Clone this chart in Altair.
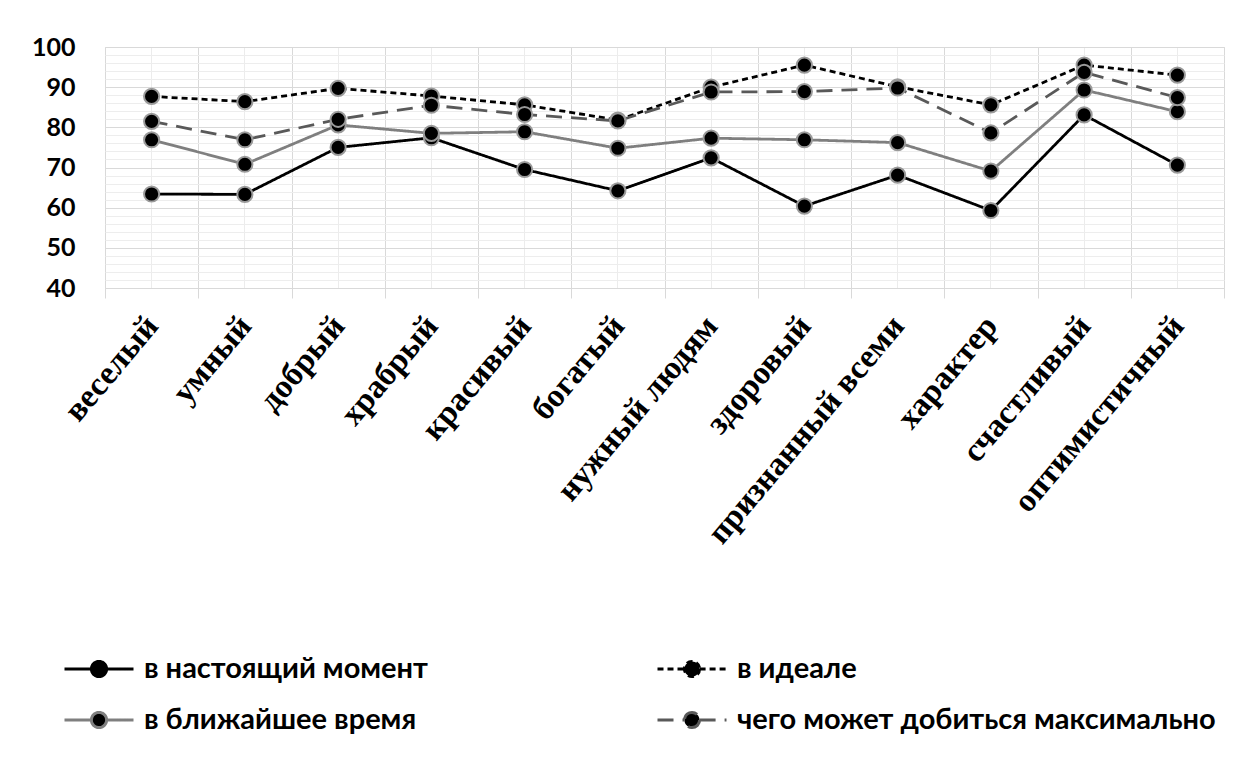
import altair as alt
import pandas as pd

categories = ["веселый", "умный", "добрый", "храбрый", "красивый", "богатый",
              "нужный людям", "здоровый", "признанный  всеми", "характер",
              "счастливый", "оптимистичный"]

series_names = ["в настоящий момент", "в идеале", "в ближайшее время",
                "чего может добиться максимально"]

now_vals = [63.4, 63.3, 75.0, 77.4, 69.5, 64.2, 72.4, 60.4, 68.1, 59.3, 83.1, 70.6]
ideal_vals = [87.7, 86.4, 89.7, 87.8, 85.6, 81.8, 90.0, 95.5, 90.1, 85.6, 95.5, 93.0]
soon_vals = [76.9, 70.8, 80.6, 78.5, 78.9, 74.8, 77.3, 76.9, 76.2, 69.1, 89.3, 83.9]
max_vals = [81.5, 76.9, 82.0, 85.5, 83.2, 81.6, 88.8, 88.9, 89.8, 78.6, 93.7, 87.4]

y_major = [40, 50, 60, 70, 80, 90, 100]
y_minor = [42, 44, 46, 48, 52, 54, 56, 58, 62, 64, 66, 68, 72, 74, 76, 78,
           82, 84, 86, 88, 92, 94, 96, 98]

rows = []
for name, vals in zip(series_names, [now_vals, ideal_vals, soon_vals, max_vals]):
    for c, v in zip(categories, vals):
        rows.append({"cat": c, "series": name, "value": v})
df = pd.DataFrame(rows)

x_scale = alt.Scale(type="band", domain=categories, paddingInner=0, paddingOuter=0)
y_scale = alt.Scale(domain=[40, 100], nice=False, zero=False)

color_scale = alt.Scale(domain=series_names,
                        range=["#000000", "#000000", "#7f7f7f", "#595959"])
dash_scale = alt.Scale(domain=series_names,
                       range=[[1, 0], [6, 4], [1, 0], [16, 9]])

legend_symbol = "M-1,0H-0.22M0.22,0H1M0.22,0A0.22,0.22,0,1,1,-0.22,0A0.22,0.22,0,1,1,0.22,0Z"

x_main = alt.X("cat:N", scale=x_scale, sort=categories, title=None,
               axis=alt.Axis(tickBand="extent", grid=True, gridColor="#d9d9d9",
                             ticks=True, tickSize=10, tickColor="#d9d9d9",
                             domain=False, labelAngle=-50, labelAlign="right",
                             labelBaseline="middle", labelPadding=22,
                             labelFont="Liberation Serif", labelFontWeight="bold",
                             labelFontSize=33, labelColor="#000000",
                             labelLimit=500))

lines = alt.Chart(df).mark_line(strokeWidth=2.8).encode(
    x=x_main,
    y=alt.Y("value:Q", scale=y_scale, title=None,
            axis=alt.Axis(values=y_major, grid=True, gridColor="#d9d9d9",
                          domain=False, ticks=False, labelPadding=30,
                          labelFont="Lato", labelFontWeight="bold",
                          labelFontSize=25, labelColor="#000000",
                          minExtent=92, maxExtent=92)),
    color=alt.Color("series:N", scale=color_scale, sort=series_names,
                    legend=alt.Legend(title=None, orient="none", legendX=-42,
                                      legendY=586, columns=2, direction="horizontal",
                                      columnPadding=223, rowPadding=-1,
                                      symbolType=legend_symbol,
                                      symbolSize=4761, symbolStrokeWidth=3,
                                      symbolFillColor="#000000",
                                      labelFont="Lato", labelFontWeight="bold",
                                      labelFontSize=29, labelColor="#000000",
                                      labelLimit=600, labelOffset=9)),
    strokeDash=alt.StrokeDash("series:N", scale=dash_scale, sort=series_names,
                              legend=None),
    detail="series:N",
)

points = alt.Chart(df).mark_point(filled=True, size=230, fill="#000000",
                                  stroke="#9a9a9a", strokeWidth=2, opacity=1).encode(
    x=alt.X("cat:N", scale=x_scale, sort=categories, title=None,
            axis=alt.Axis(orient="top", grid=True, gridColor="#ececec",
                          labels=False, ticks=False, domain=False)),
    y=alt.Y("value:Q", scale=y_scale, title=None,
            axis=alt.Axis(orient="right", values=y_minor, grid=True,
                          gridColor="#ededed", labels=False, ticks=False,
                          domain=False)),
)

chart = alt.layer(lines, points).resolve_axis(x="independent", y="independent").properties(
    width=1119, height=241,
    padding={"left": 5, "top": 27, "right": 5, "bottom": 5},
).configure_view(stroke=None).configure(background="#ffffff")

chart.save("out.html", embed_options={"renderer": "svg", "actions": False})
